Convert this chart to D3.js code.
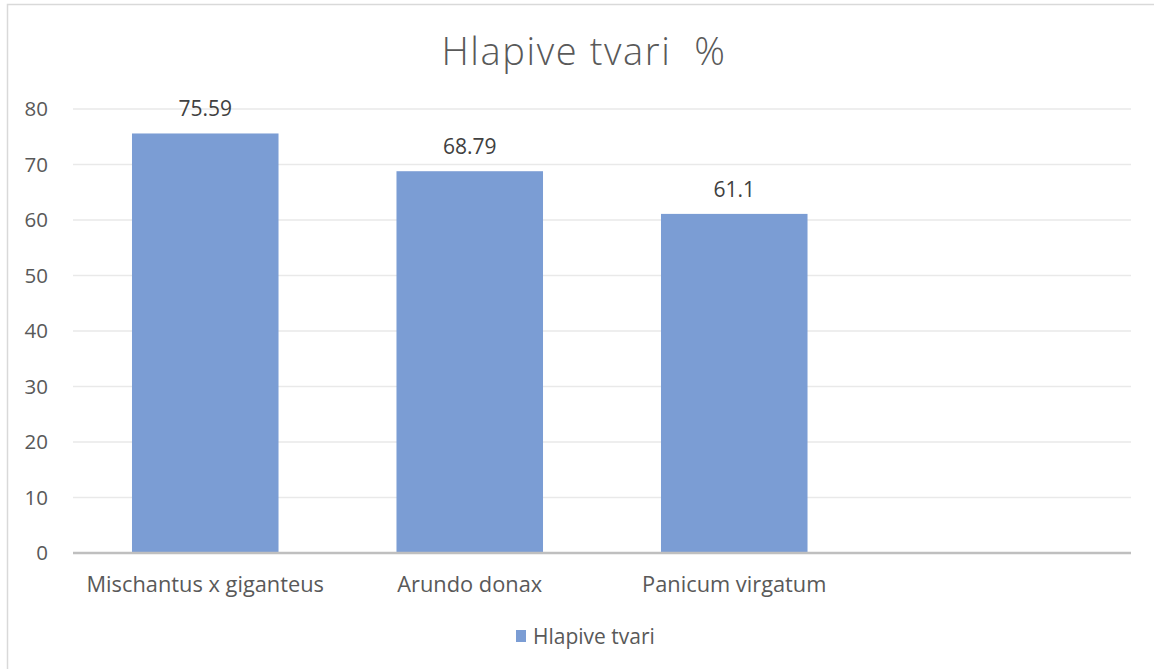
<!DOCTYPE html>
<html>
<head>
<meta charset="utf-8">
<script src="https://cdn.jsdelivr.net/npm/d3@7"></script>
<style>
  body { margin: 0; background: #fff; }
  text { font-family: "Open Sans", "Noto Sans", sans-serif; fill: #595959; }
</style>
</head>
<body>
<svg id="chart" width="1154" height="669"></svg>
<script>
// data
var categories = ["Mischantus x giganteus", "Arundo donax", "Panicum virgatum", ""];
var values = [75.59, 68.79, 61.1, null];
var yTicks = [0, 10, 20, 30, 40, 50, 60, 70, 80];
var seriesName = "Hlapive tvari";
var title = "Hlapive tvari  %";

var svg = d3.select("#chart");
var margin = {top: 109, right: 23, bottom: 116, left: 73},
    width = 1154 - margin.left - margin.right,
    height = 669 - margin.top - margin.bottom;

// chart frame
svg.append("rect")
  .attr("x", 7.5).attr("y", 4.5)
  .attr("width", 1160).attr("height", 680)
  .attr("fill", "#fff").attr("stroke", "#d9d9d9").attr("stroke-width", 1.5);

var g = svg.append("g").attr("transform", "translate(" + margin.left + "," + margin.top + ")");

var x = d3.scaleBand().domain(d3.range(categories.length)).range([0, width]).padding(0);
var y = d3.scaleLinear().domain([0, 80]).range([height, 0]);

// gridlines
g.selectAll(".grid")
  .data(yTicks.slice(1))
  .enter().append("line")
    .attr("x1", 0).attr("x2", width)
    .attr("y1", function(d) { return y(d); })
    .attr("y2", function(d) { return y(d); })
    .attr("stroke", "#e9e9e9").attr("stroke-width", 1.5);

// y labels
g.selectAll(".ylab")
  .data(yTicks)
  .enter().append("text")
    .attr("x", -25)
    .attr("y", function(d) { return y(d); })
    .attr("dy", "0.35em")
    .attr("text-anchor", "end")
    .style("font-size", "20.5px")
    .text(function(d) { return d; });

// bars
var barW = x.bandwidth() * 0.554;
var bars = values.map(function(v, i) { return {v: v, i: i}; }).filter(function(d) { return d.v !== null; });

g.selectAll(".bar")
  .data(bars)
  .enter().append("rect")
    .attr("x", function(d) { return x(d.i) + (x.bandwidth() - barW) / 2; })
    .attr("y", function(d) { return y(d.v); })
    .attr("width", barW)
    .attr("height", function(d) { return height - y(d.v); })
    .attr("fill", "#7b9dd4");

// value labels
g.selectAll(".val")
  .data(bars)
  .enter().append("text")
    .attr("x", function(d) { return x(d.i) + x.bandwidth() / 2; })
    .attr("y", function(d) { return y(d.v) - 17; })
    .attr("text-anchor", "middle")
    .style("font-size", "21px")
    .style("fill", "#404040")
    .text(function(d) { return d.v; });

// x axis line
g.append("line")
  .attr("x1", 0).attr("x2", width)
  .attr("y1", height).attr("y2", height)
  .attr("stroke", "#bfbfbf").attr("stroke-width", 2.5);

// category labels
g.selectAll(".cat")
  .data(categories)
  .enter().append("text")
    .attr("x", function(d, i) { return x(i) + x.bandwidth() / 2; })
    .attr("y", height + 39)
    .attr("text-anchor", "middle")
    .style("font-size", "21.8px")
    .text(function(d) { return d; });

// title
svg.append("text")
  .attr("x", 584).attr("y", 65)
  .attr("text-anchor", "middle")
  .style("font-size", "38px")
  .style("font-weight", 300)
  .style("letter-spacing", "1.6px")
  .style("white-space", "pre")
  .text(title);

// legend
var lg = svg.append("g").attr("transform", "translate(516,630)");
lg.append("rect").attr("width", 10).attr("height", 12).attr("fill", "#7b9dd4");
lg.append("text").attr("x", 17).attr("y", 14).style("font-size", "21px").text(seriesName);
</script>
</body>
</html>
